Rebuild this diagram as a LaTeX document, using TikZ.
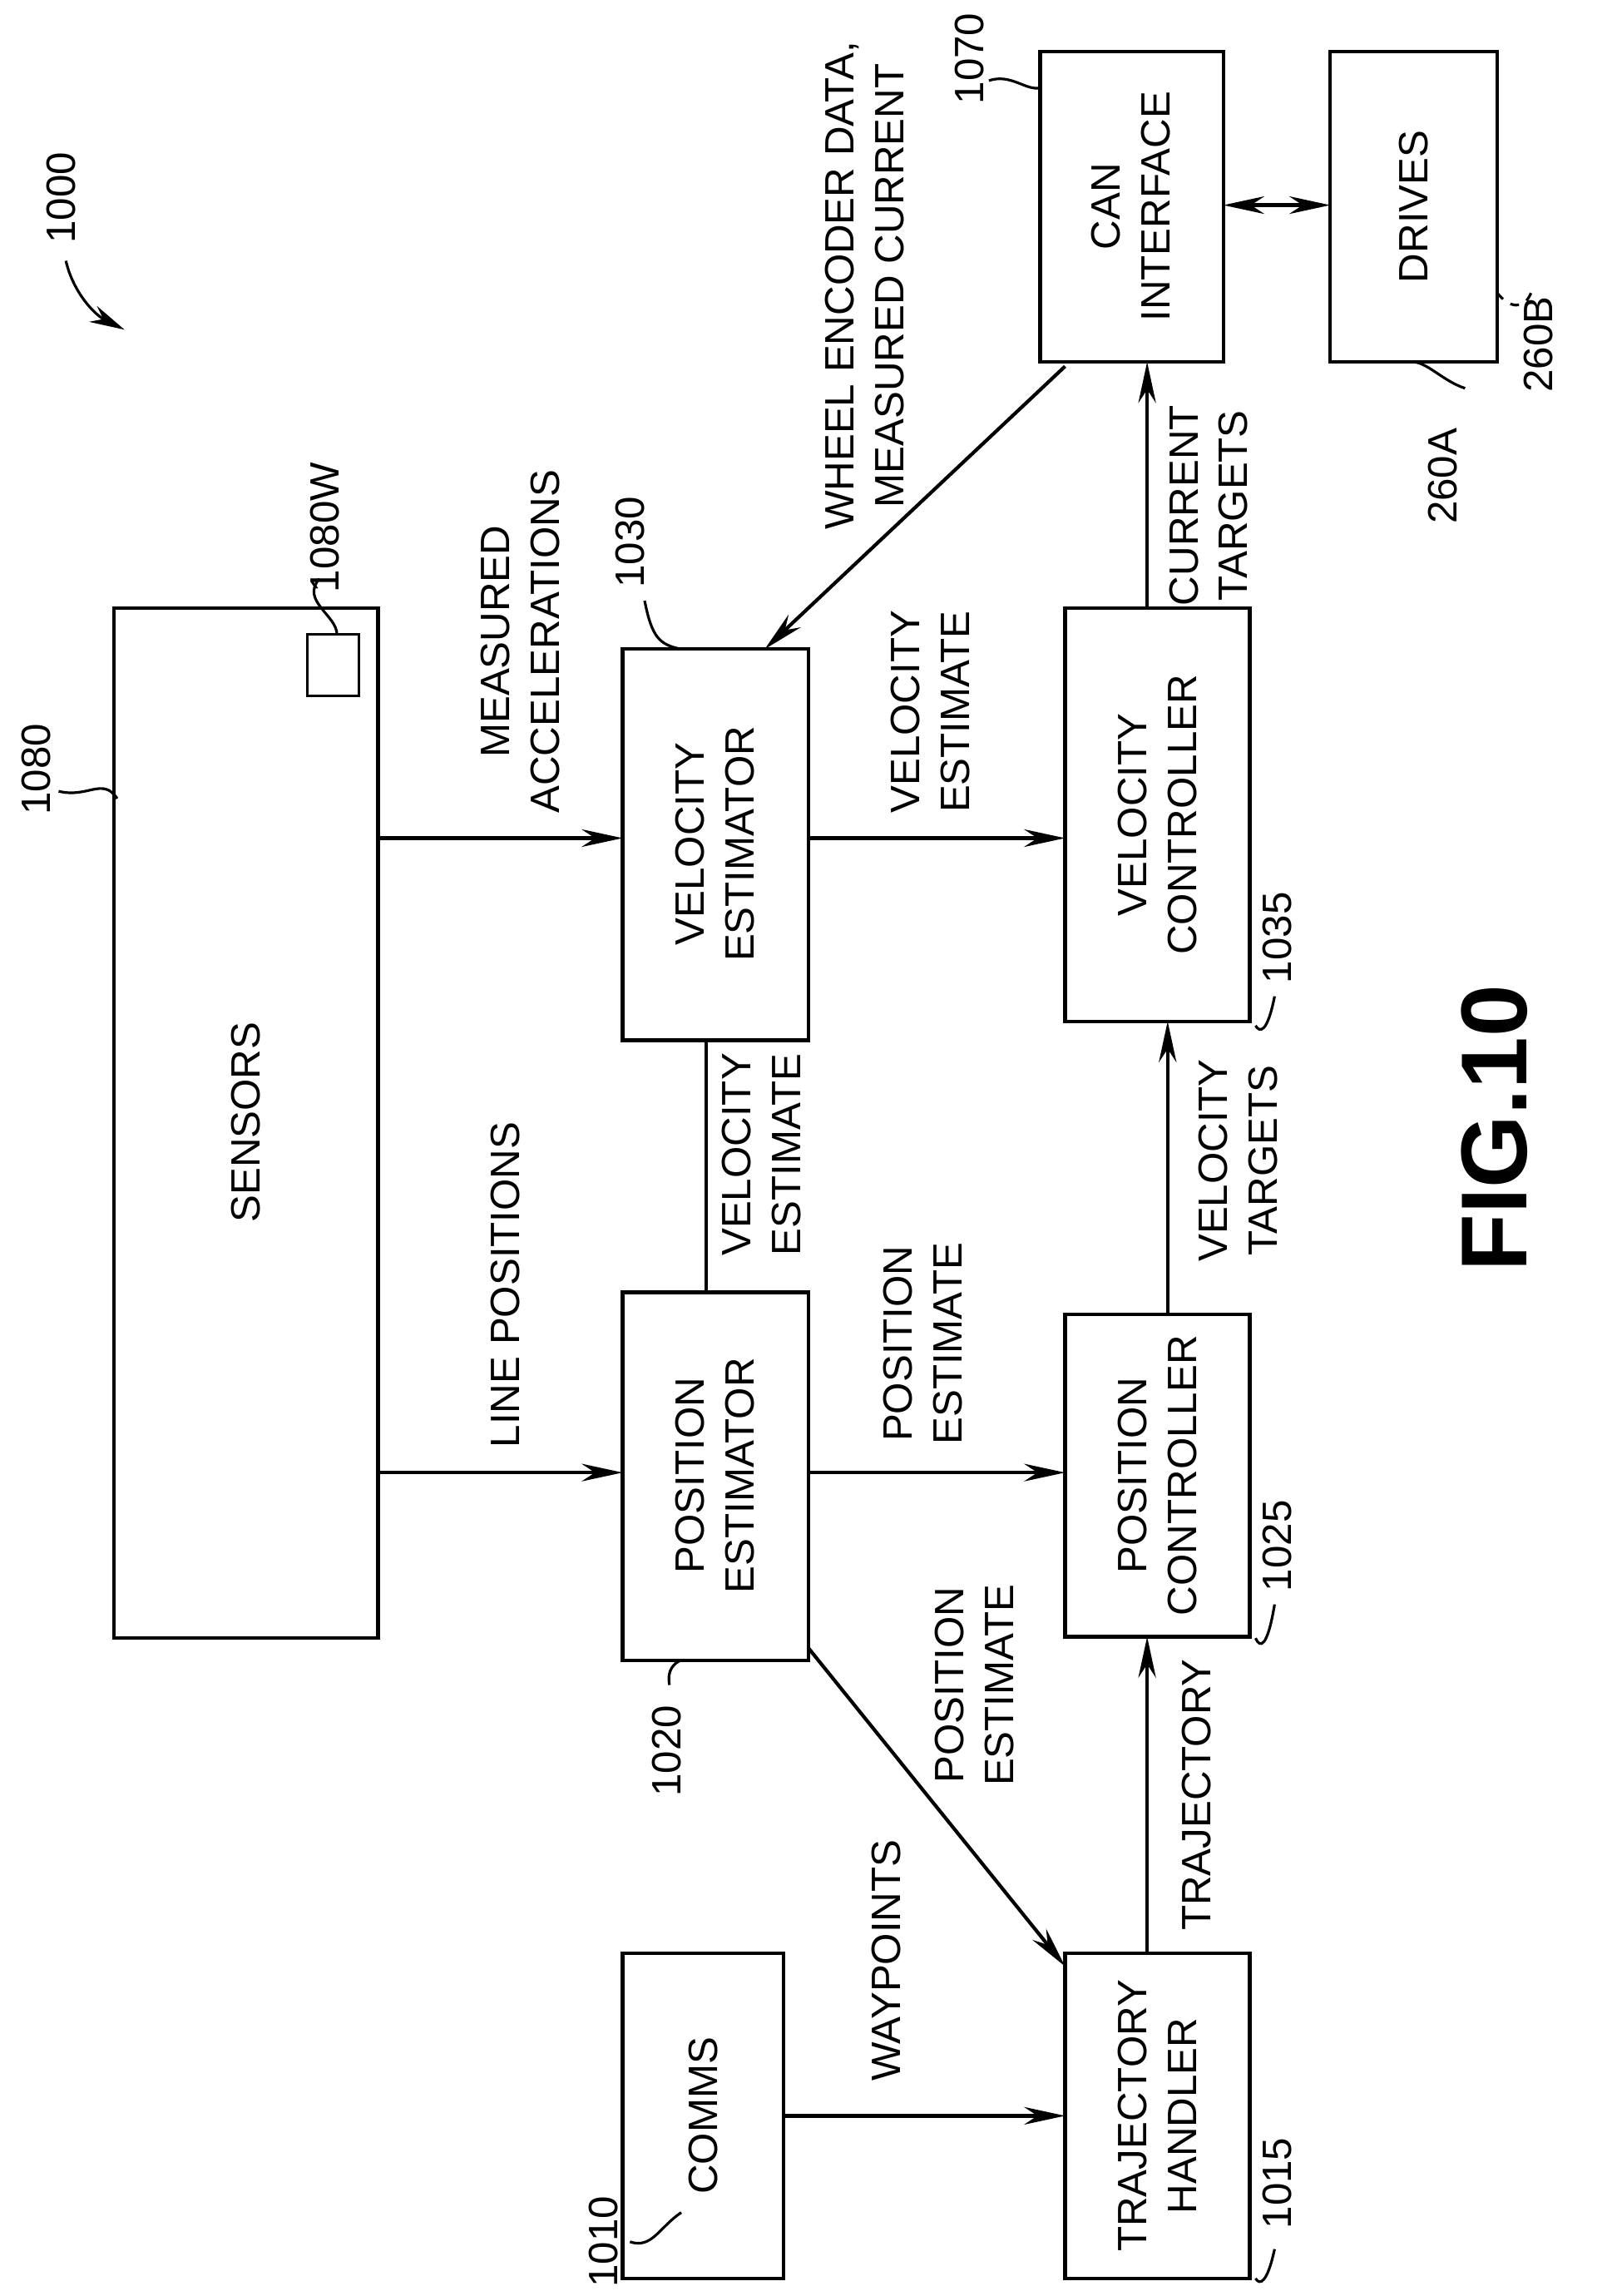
\documentclass[tikz,border=0pt]{standalone}
\usepackage{fontspec}
\setmainfont{Liberation Sans}
\usetikzlibrary{arrows.meta}
\begin{document}
\begin{tikzpicture}[x=0.0176cm,y=-0.0176cm,
 txt/.style={rotate=90,font=\fontsize{14}{17}\selectfont,align=center},
 lab/.style={rotate=90,font=\fontsize{14}{17}\selectfont,align=center},
 ar/.style={line width=1.2pt,-{Stealth[length=14pt,width=6pt]}},
 ln/.style={line width=1.2pt},
 bx/.style={line width=1.2pt},
 ld/.style={line width=0.9pt}]
\useasboundingbox (0,0) rectangle (1100,1567);
% boxes
\draw[bx] (78,415) rectangle (258,1118);
\node[txt] (sens) at (168,766) {SENSORS};
\draw[ld] (210,433) rectangle (245,475);
\coordinate (sq) at (230,433);
\draw[bx] (425,443) rectangle (552,710); \node[txt] (ve) at (488,576) {VELOCITY\\ESTIMATOR};
\draw[bx] (425,882) rectangle (552,1133); \node[txt] (pe) at (488,1007) {POSITION\\ESTIMATOR};
\draw[bx] (727,415) rectangle (853,697); \node[txt] (vc) at (790,556) {VELOCITY\\CONTROLLER};
\draw[bx] (727,897) rectangle (853,1117); \node[txt] (pc) at (790,1007) {POSITION\\CONTROLLER};
\draw[bx] (425,1333) rectangle (535,1555); \node[txt] (co) at (480,1444) {COMMS};
\draw[bx] (727,1333) rectangle (853,1555); \node[txt] (th) at (790,1444) {TRAJECTORY\\HANDLER};
\draw[bx] (710,35) rectangle (835,247); \node[txt] (can) at (772,141) {CAN\\INTERFACE};
\draw[bx] (908,35) rectangle (1022,247); \node[txt] (dr) at (965,141) {DRIVES};
% connectors
\coordinate (a1) at (258,572); \coordinate (a2) at (425,572);
\draw[ar] (a1) -- (a2);
\node[lab,anchor=west] at (355,562) {MEASURED\\ACCELERATIONS};
\coordinate (b1) at (258,1005); \coordinate (b2) at (425,1005);
\draw[ar] (b1) -- (b2);
\node[lab,anchor=west] at (345,995) {LINE POSITIONS};
\coordinate (c1) at (482,710); \coordinate (c2) at (482,882);
\draw[ln] (c1) -- (c2);
\node[lab] at (520,788) {VELOCITY\\ESTIMATE};
\coordinate (d1) at (552,572); \coordinate (d2) at (727,572);
\draw[ar] (d1) -- (d2);
\node[lab,anchor=west] at (635,562) {VELOCITY\\ESTIMATE};
\coordinate (e1) at (552,1005); \coordinate (e2) at (727,1005);
\draw[ar] (e1) -- (e2);
\node[lab,anchor=west] at (630,993) {POSITION\\ESTIMATE};
\coordinate (f1) at (552,1125); \coordinate (f2) at (727,1342);
\draw[ar] (f1) -- (f2);
\node[lab] at (665,1150) {POSITION\\ESTIMATE};
\coordinate (g1) at (535,1444); \coordinate (g2) at (727,1444);
\draw[ar] (g1) -- (g2);
\node[lab] at (605,1338) {WAYPOINTS};
\coordinate (h1) at (783,1333); \coordinate (h2) at (783,1117);
\draw[ar] (h1) -- (h2);
\node[lab] at (817,1225) {TRAJECTORY};
\coordinate (i1) at (797,897); \coordinate (i2) at (797,697);
\draw[ar] (i1) -- (i2);
\node[lab] at (845,792) {VELOCITY\\TARGETS};
\coordinate (j1) at (783,415); \coordinate (j2) at (783,247);
\draw[ar] (j1) -- (j2);
\node[lab] at (825,345) {CURRENT\\TARGETS};
\coordinate (k1) at (727,250); \coordinate (k2) at (522,443);
\draw[ar] (k1) -- (k2);
\node[lab] at (590,195) {WHEEL ENCODER DATA,\\MEASURED CURRENT};
\coordinate (l1) at (835,140); \coordinate (l2) at (908,140);
\draw[line width=1.2pt,{Stealth[length=14pt,width=6pt]}-{Stealth[length=14pt,width=6pt]}] (l1) -- (l2);
% reference numerals
\node[lab] (n1000) at (42,135) {1000};
\draw[ld,-{Stealth[length=12pt,width=6pt]}] (45,178) .. controls (50,200) and (65,215) .. (85,225);
\node[lab] (n1080) at (25,525) {1080};
\draw[ld] (40,540) .. controls (60,545) and (70,530) .. (80,545);
\node[lab] (n1080w) at (222,360) {1080W};
\draw[ld] (218,395) .. controls (205,410) and (230,420) .. (sq);
\node[lab] at (430,370) {1030};
\draw[ld] (440,410) .. controls (445,435) and (450,440) .. (465,443);
\node[lab] at (455,1195) {1020};
\draw[ld] (457,1150) .. controls (455,1140) and (460,1135) .. (465,1133);
\node[lab] at (872,1055) {1025};
\draw[ld] (857,1118) .. controls (860,1125) and (865,1125) .. (870,1095);
\node[lab] at (872,640) {1035};
\draw[ld] (857,700) .. controls (860,705) and (865,705) .. (870,680);
\node[lab] at (412,1530) {1010};
\draw[ld] (430,1530) .. controls (445,1535) and (450,1520) .. (465,1510);
\node[lab] at (872,1490) {1015};
\draw[ld] (857,1555) .. controls (860,1560) and (865,1558) .. (870,1535);
\node[lab] at (662,40) {1070};
\draw[ld] (675,55) .. controls (690,50) and (700,62) .. (710,60);
\node[lab] at (985,325) {260A};
\draw[ld] (1000,265) .. controls (985,260) and (975,248) .. (965,247);
\node[lab] at (1050,235) {260B};
\draw[ld,dashed] (1045,200) .. controls (1040,212) and (1030,210) .. (1022,200);
\node[rotate=90,font=\fontsize{32}{38}\selectfont\bfseries] at (1020,770) {FIG.10};
\end{tikzpicture}
\end{document}
